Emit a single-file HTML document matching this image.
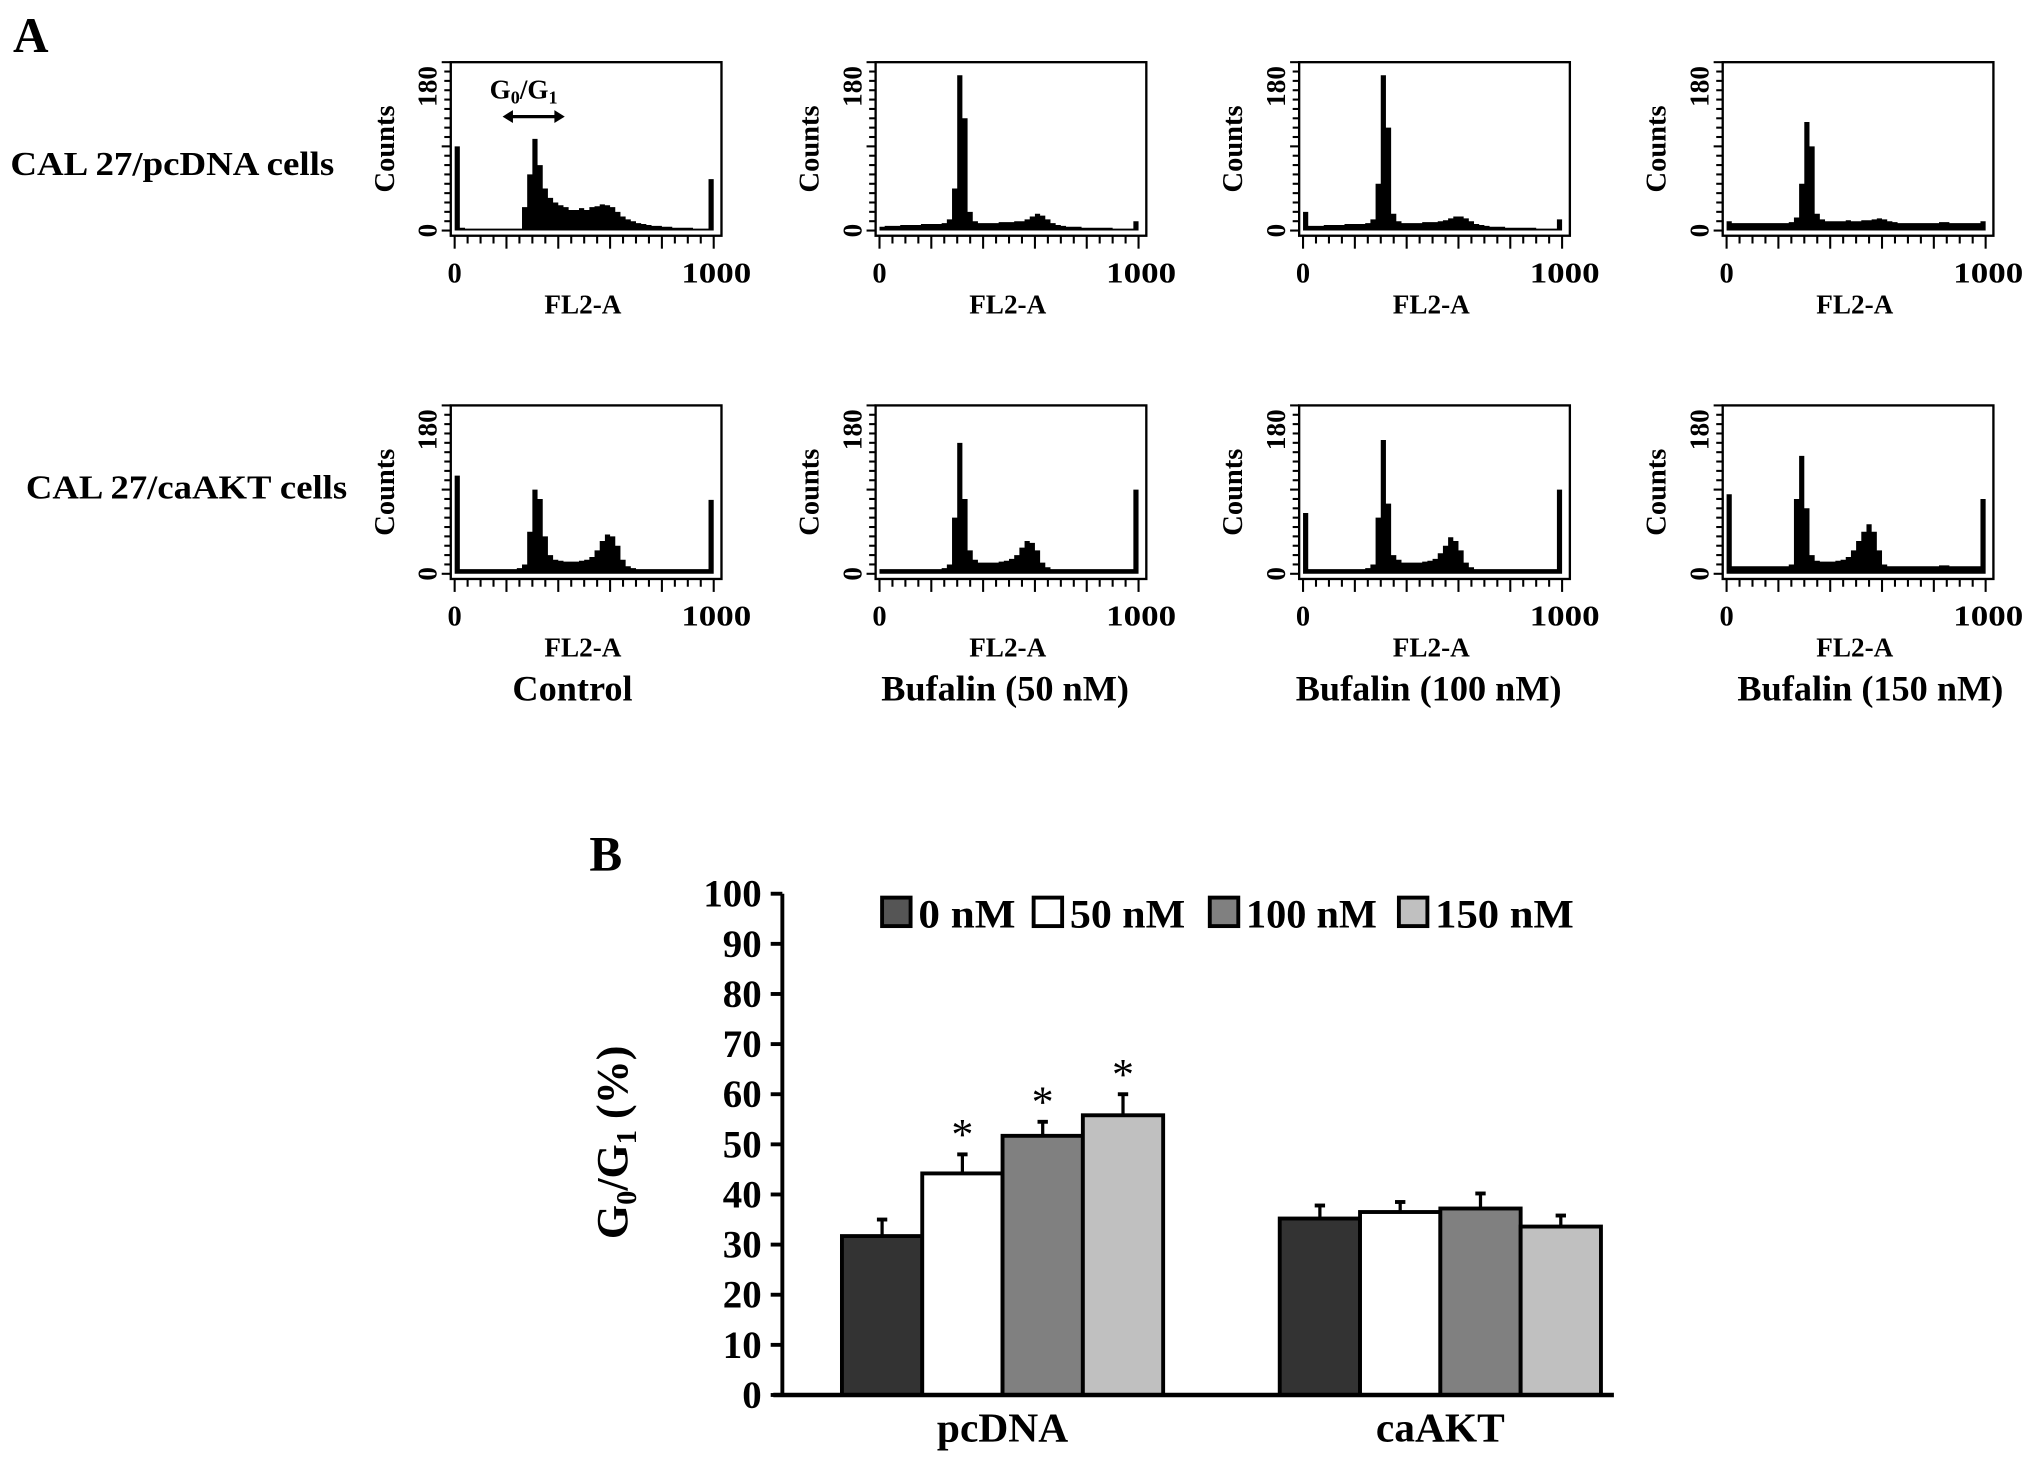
<!DOCTYPE html>
<html><head><meta charset="utf-8"><style>
html,body{margin:0;padding:0;background:#fff;}
svg{display:block;font-family:"Liberation Serif",serif;font-weight:bold;}
</style></head><body>
<svg id="fig" width="2031" height="1460" viewBox="0 0 1568 1127.2" xmlns="http://www.w3.org/2000/svg">
<rect width="1568" height="1127.2" fill="#fff"/>
<text x="10" y="40" font-size="38">A</text>
<text x="8" y="135" font-size="26" textLength="250" lengthAdjust="spacingAndGlyphs">CAL 27/pcDNA cells</text>
<text x="20" y="385" font-size="26" textLength="248" lengthAdjust="spacingAndGlyphs">CAL 27/caAKT cells</text>
<g id="hists"></g>
<text x="442" y="541" font-size="28" text-anchor="middle">Control</text>
<text x="776" y="541" font-size="28" text-anchor="middle">Bufalin (50 nM)</text>
<text x="1103" y="541" font-size="28" text-anchor="middle">Bufalin (100 nM)</text>
<text x="1444" y="541" font-size="28" text-anchor="middle">Bufalin (150 nM)</text>
<g>
<text x="378" y="76" font-size="21">G<tspan font-size="14" dy="4">0</tspan><tspan dy="-4">/G</tspan><tspan font-size="14" dy="4">1</tspan></text>
<line x1="392" y1="90" x2="432" y2="90" stroke="#000" stroke-width="2.5"/>
<path d="M388,90 L396,85 L396,95Z M436,90 L428,85 L428,95Z" fill="#000"/>
</g>
<text x="455" y="672" font-size="38">B</text>
<g id="bars"></g>
</svg>
<script>
// ---------- histogram data (50 bins of 20 FL2-A units, counts 0-180) ----------
const histTicks = ["0","1000"];
const histYTicks = ["0","180"];
const h1 = [90,3,2,2,2,2,2,2,2,2,2,2,2,25,60,98,70,45,35,30,27,25,22,22,24,22,25,26,28,27,25,20,15,12,10,8,7,6,5,5,4,4,3,3,3,3,2,2,2,55];
const h2 = [4,5,5,5,6,6,6,6,7,7,7,7,8,12,45,166,120,20,10,8,8,8,8,9,9,9,10,10,12,15,18,16,12,8,6,5,4,4,4,3,3,3,3,3,3,2,2,2,2,10];
const h3 = [20,5,5,5,6,6,6,6,7,7,7,7,8,12,50,166,110,18,10,8,8,8,8,9,9,9,10,11,13,15,15,13,10,7,6,5,4,4,4,3,3,3,3,3,3,2,2,2,2,12];
const h4 = [10,8,8,8,8,8,8,8,8,8,8,8,9,14,50,116,90,18,12,10,10,10,10,11,10,10,11,11,12,13,12,10,9,8,8,8,8,8,8,8,8,9,9,8,8,8,8,8,8,10];
const h5 = [105,5,5,5,5,5,5,5,5,5,5,5,6,10,45,90,80,40,20,15,14,13,13,13,14,15,18,25,35,42,40,30,15,8,6,5,5,5,5,5,5,5,5,5,5,5,5,5,5,79];
const h6 = [5,5,5,5,5,5,5,5,5,5,5,5,6,10,60,140,80,25,15,12,12,12,12,13,14,16,20,28,35,33,25,12,7,5,5,5,5,5,5,5,5,5,5,5,5,5,5,5,5,90];
const h7 = [65,5,5,5,5,5,5,5,5,5,5,5,6,10,60,143,75,20,15,12,12,12,12,13,14,16,22,30,39,35,25,12,7,5,5,5,5,5,5,5,5,5,5,5,5,5,5,5,5,90];
const h8 = [85,8,8,8,8,8,8,8,8,8,8,8,10,80,126,70,20,14,13,13,13,14,15,18,25,35,45,53,45,25,10,8,8,8,8,8,8,8,8,8,8,9,9,8,8,8,8,8,8,80];
const hists=[h1,h2,h3,h4,h5,h6,h7,h8];
const NS="http://www.w3.org/2000/svg";
function mk(tag,attrs,parent){const e=document.createElementNS(NS,tag);for(const k in attrs)e.setAttribute(k,attrs[k]);parent.appendChild(e);return e;}
const hg=document.getElementById('hists');
const colX=[348,676,1003,1330], rowY=[48,313];
hists.forEach((data,idx)=>{
  const bx=colX[idx%4], by=rowY[Math.floor(idx/4)], bw=209, bh=134;
  const x0=bx+3, x1=bx+203, yb=by+130, yt=by;
  const sx=v=>x0+(v/1000)*(x1-x0);
  const sy=c=>yb-(c/180)*(yb-yt);
  const g=mk('g',{},hg);
  
  
  let d=`M${sx(0)},${yb}`;
  data.forEach((c,i)=>{d+=` L${sx(i*20)},${sy(c)} L${sx((i+1)*20)},${sy(c)}`;});
  d+=` L${sx(1000)},${yb}Z`;
  const p=mk('path',{d:d,fill:'#000'},g);
  
  
  const box=mk('rect',{x:bx,y:by,width:bw,height:bh,fill:'none',stroke:'#000','stroke-width':1.8},g);
  
  
  for(let c=0;c<=180;c+=10){const y=sy(c);mk('line',{x1:bx-(c%90===0?7:5),y1:y,x2:bx,y2:y,stroke:'#000','stroke-width':1.6},g);}
  for(let v=0;v<=1000;v+=50){const x=sx(v);mk('line',{x1:x,y1:by+bh,x2:x,y2:by+bh+(v%200===0?10:6),stroke:'#000','stroke-width':1.6},g);}
  const t0=mk('text',{x:sx(0),y:by+170,'font-size':22,'text-anchor':'middle'},g);t0.textContent=histTicks[0];
  
  
  const t1=mk('text',{x:sx(1000)+2,y:by+170,'font-size':22,'text-anchor':'middle',textLength:54,lengthAdjust:'spacingAndGlyphs'},g);t1.textContent=histTicks[1];
  
  
  const xl=mk('text',{x:bx+102,y:by+194,'font-size':21,'text-anchor':'middle'},g);xl.textContent='FL2-A';
  
  
  const ya=mk('text',{transform:`translate(${bx-11},${yb}) rotate(-90)`,'font-size':21,'text-anchor':'middle'},g);ya.textContent=histYTicks[0];
  
  
  const yb2=mk('text',{transform:`translate(${bx-11},${yt+3}) rotate(-90)`,'font-size':21,'text-anchor':'end'},g);yb2.textContent=histYTicks[1];
  
  
  const yt2=mk('text',{transform:`translate(${bx-44},${by+67}) rotate(-90)`,'font-size':22,'text-anchor':'middle'},g);yt2.textContent='Counts';
  
  
});

// ---------- bar chart data ----------
const groups = ["pcDNA","caAKT"];
const series = ["0 nM","50 nM","100 nM","150 nM"];
const pcdnaVals = [31.7,44.2,51.7,55.8];
const caaktVals = [35.2,36.5,37.2,33.6];
const pcdnaErr = [3.3,3.8,2.8,4.2];
const caaktErr = [2.6,2.0,3.0,2.2];
const pcdnaSig = [false,true,true,true];
const caaktSig = [false,false,false,false];
const yTicks = [0,10,20,30,40,50,60,70,80,90,100];
const colors=['#333333','#ffffff','#808080','#c0c0c0'];
const bgp=document.getElementById('bars');
const axX=604, y0=1077, y100=690;
const sy=v=>y0-(v/100)*(y0-y100);
const groupStart=[650,988], bw=62;
const ax=mk('line',{x1:axX,y1:y100,x2:axX,y2:y0,stroke:'#000','stroke-width':3},bgp);


yTicks.forEach(t=>{
  const y=sy(t);
  mk('line',{x1:axX-9,y1:y,x2:axX,y2:y,stroke:'#000','stroke-width':3},bgp);
  const tx=mk('text',{x:588,y:y+10,'font-size':30,'text-anchor':'end'},bgp);tx.textContent=t;
  
  
});
const vals=[pcdnaVals,caaktVals], errs=[pcdnaErr,caaktErr], sigs=[pcdnaSig,caaktSig];
groups.forEach((gname,gi)=>{
  vals[gi].forEach((v,si)=>{
    const x=groupStart[gi]+si*bw, top=sy(v), et=sy(v+errs[gi][si]), cx=x+bw/2;
    const e=mk('line',{x1:cx,y1:top,x2:cx,y2:et,stroke:'#000','stroke-width':2.5},bgp);
    
    
    mk('line',{x1:cx-4,y1:et,x2:cx+4,y2:et,stroke:'#000','stroke-width':3},bgp);
    const r=mk('rect',{x:x,y:top,width:bw,height:y0-top,fill:colors[si],stroke:'#000','stroke-width':3},bgp);
    
    
    if(sigs[gi][si]){
      const s=mk('text',{x:cx,y:et-4,'font-size':34,'text-anchor':'middle','font-weight':'normal'},bgp);s.textContent='*';
      
      
    }
  });
  const gl=mk('text',{x:groupStart[gi]+2*bw,y:1113,'font-size':32,'text-anchor':'middle'},bgp);gl.textContent=gname;
  
  
});
const xa=mk('line',{x1:597,y1:y0,x2:1246,y2:y0,stroke:'#000','stroke-width':3.5},bgp);


const legX=[681,798,934,1080];
const legW=[75,89,101,107];
series.forEach((s,i)=>{
  const lg=mk('g',{},bgp);
  
  
  mk('rect',{x:legX[i],y:693,width:22,height:22,fill:i===0?'#555':colors[i],stroke:'#000','stroke-width':3},lg);
  const t=mk('text',{x:legX[i]+28,y:716,'font-size':31,textLength:legW[i],lengthAdjust:'spacingAndGlyphs'},lg);t.textContent=s;
});
const yt=mk('text',{transform:'translate(484,882) rotate(-90)','font-size':34,'text-anchor':'middle'},bgp);
yt.innerHTML='G<tspan font-size="22" dy="7">0</tspan><tspan dy="-7">/G</tspan><tspan font-size="22" dy="7">1</tspan><tspan dy="-7"> (%)</tspan>';


</script>
</body></html>
